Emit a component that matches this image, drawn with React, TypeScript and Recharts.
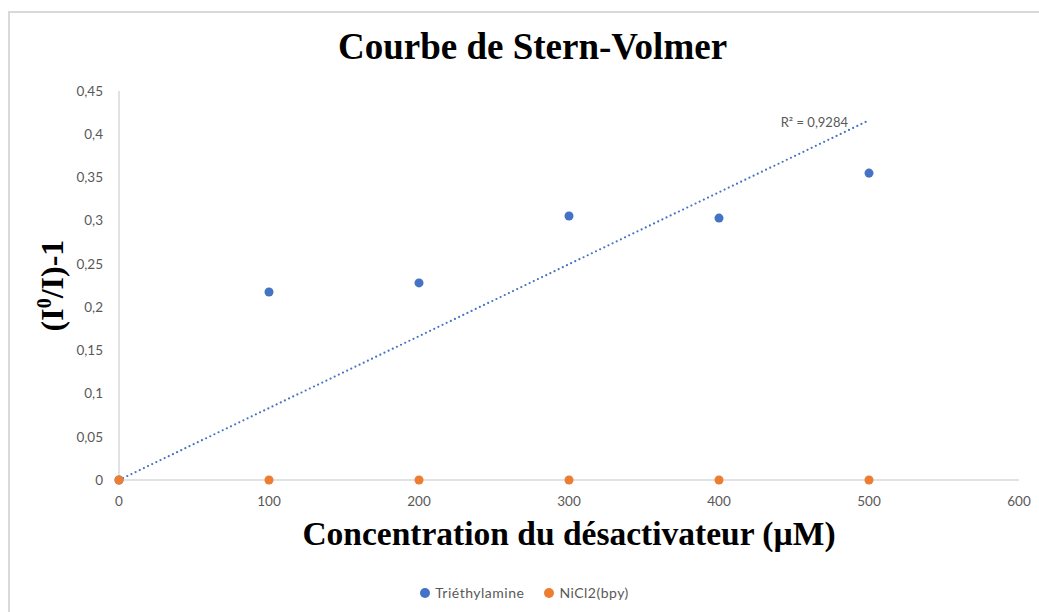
import React from 'react';
import { ScatterChart, Scatter, XAxis, YAxis, ZAxis, ReferenceDot, Label } from 'recharts';

// Concentrations (µM) and (I0/I)-1 for each quencher
const concentrations = [0, 100, 200, 300, 400, 500];
const triethylamine = [0, 0.2175, 0.228, 0.3054, 0.303, 0.355];
const nicl2bpy = [0, 0, 0, 0, 0, 0];

const xTicks = [0, 100, 200, 300, 400, 500, 600];
const yTicks = [0, 0.05, 0.1, 0.15, 0.2, 0.25, 0.3, 0.35, 0.4, 0.45];
const r2Text = 'R² = 0,9284';

const BLUE = '#4472C4';
const ORANGE = '#ED7D31';
const GREY = '#595959';
const AXIS = '#d9d9d9';

const teaData = concentrations.map((x, i) => ({ x, y: triethylamine[i] }));
const niData = concentrations.map((x, i) => ({ x, y: nicl2bpy[i] }));

// linear trend forced through the origin (least squares)
const slope =
  concentrations.reduce((s, x, i) => s + x * triethylamine[i], 0) /
  concentrations.reduce((s, x) => s + x * x, 0);
const xMax = concentrations[concentrations.length - 1];
const trendData = [
  { x: 0, y: 0 },
  { x: xMax, y: slope * xMax },
];

const fmt = (v: number) => String(v).replace('.', ',');

const tickFont = { fontFamily: 'Lato, sans-serif', fontSize: 13.5, fill: GREY };
const serif = "'Liberation Serif', 'Times New Roman', serif";

const YLabel = ({ viewBox }: any) => {
  const cx = 53;
  const cy = viewBox.y + viewBox.height / 2;
  return (
    <text
      x={cx}
      y={cy}
      transform={`rotate(-90 ${cx} ${cy})`}
      textAnchor="middle"
      fontFamily={serif}
      fontWeight="bold"
      fontSize={32}
      fill="#000"
    >
      (I<tspan dy={-12} fontSize={20}>0</tspan>
      <tspan dy={12}>/I)-1</tspan>
    </text>
  );
};

const R2Label = ({ viewBox }: any) => (
  <text
    x={viewBox.x - 21}
    y={viewBox.y + 7}
    textAnchor="end"
    fontFamily="Lato, sans-serif"
    fontSize={13}
    fill={GREY}
  >
    {r2Text}
  </text>
);

const Dot = ({ color }: { color: string }) => (
  <span
    style={{
      display: 'inline-block',
      width: 10,
      height: 10,
      borderRadius: '50%',
      background: color,
      marginRight: 5,
      verticalAlign: 'middle',
      position: 'relative',
      top: -1,
    }}
  />
);

export default function App() {
  return (
    <div
      style={{
        position: 'fixed',
        left: 8,
        top: 11,
        width: 1029,
        height: 599,
        borderLeft: `2px solid ${AXIS}`,
        borderTop: `2px solid ${AXIS}`,
        background: '#fff',
      }}
    >
      <div
        style={{
          position: 'absolute',
          left: 0,
          width: 1029,
          top: 13,
          textAlign: 'center',
          fontFamily: serif,
          fontWeight: 'bold',
          fontSize: 37,
          color: '#000',
          lineHeight: '42px',
          paddingLeft: 16,
          boxSizing: 'border-box',
        }}
      >
        Courbe de Stern-Volmer
      </div>
      <ScatterChart
        width={1029}
        height={599}
        margin={{ top: 78, right: 20, left: 49, bottom: 102 }}
      >
        <XAxis
          type="number"
          dataKey="x"
          domain={[0, 600]}
          ticks={xTicks}
          tickLine={false}
          axisLine={{ stroke: AXIS, strokeWidth: 1.5 }}
          tick={tickFont}
          tickMargin={10}
          height={30}
        >
          <Label
            value="Concentration du désactivateur (µM)"
            position="bottom"
            offset={11}
            style={{
              fontFamily: serif,
              fontWeight: 'bold',
              fontSize: 33.5,
              fill: '#000',
            }}
          />
        </XAxis>
        <YAxis
          type="number"
          dataKey="y"
          domain={[0, 0.45]}
          ticks={yTicks}
          tickFormatter={fmt}
          tickLine={false}
          axisLine={{ stroke: AXIS, strokeWidth: 1.5 }}
          tick={tickFont}
          tickMargin={10}
          width={60}
        >
          <Label content={<YLabel />} />
        </YAxis>
        <ZAxis range={[100, 100]} />
        <Scatter
          data={trendData}
          line={{ stroke: BLUE, strokeWidth: 2.2, strokeDasharray: '0 4.6', strokeLinecap: 'round' }}
          shape={() => <g />}
          isAnimationActive={false}
        />
        <Scatter data={teaData} fill={BLUE} isAnimationActive={false} />
        <Scatter data={niData} fill={ORANGE} isAnimationActive={false} />
        <ReferenceDot
          x={trendData[1].x}
          y={trendData[1].y}
          r={0}
          fill="none"
          stroke="none"
          label={<R2Label />}
        />
      </ScatterChart>
      <div
        style={{
          position: 'absolute',
          left: 0,
          width: 1029,
          top: 571,
          textAlign: 'center',
          fontFamily: 'Lato, sans-serif',
          fontSize: 14,
          color: GREY,
          letterSpacing: 0.5,
        }}
      >
        <span style={{ marginRight: 20 }}>
          <Dot color={BLUE} />
          Triéthylamine
        </span>
        <span>
          <Dot color={ORANGE} />
          NiCl2(bpy)
        </span>
      </div>
    </div>
  );
}
